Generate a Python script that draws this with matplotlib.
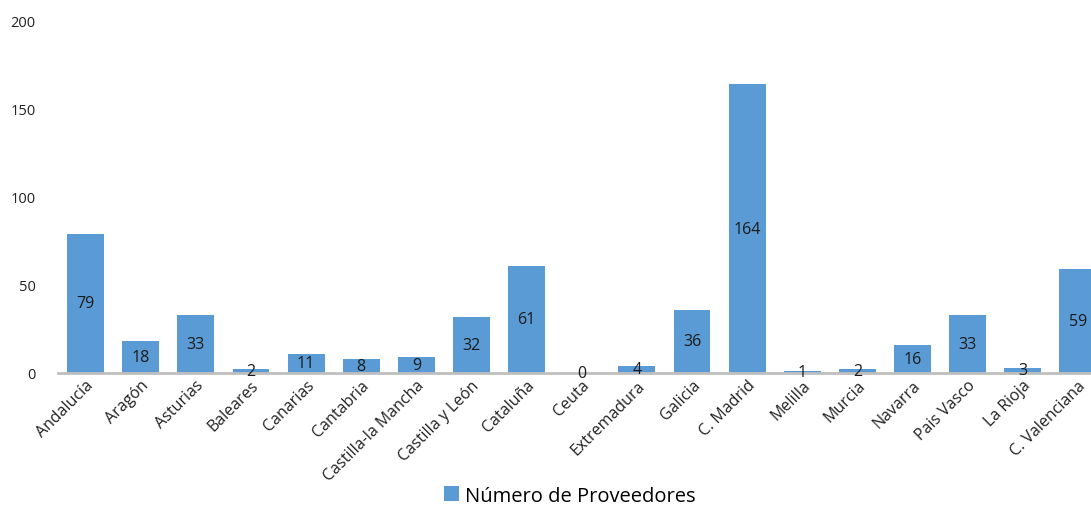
import matplotlib.pyplot as plt
import numpy as np

regiones = ["Andalucía", "Aragón", "Asturias", "Baleares", "Canarias", "Cantabria",
            "Castilla-la Mancha", "Castilla y León", "Cataluña", "Ceuta", "Extremadura",
            "Galicia", "C. Madrid", "Melilla", "Murcia", "Navarra", "Pais Vasco",
            "La Rioja", "C. Valenciana"]
proveedores = [79, 18, 33, 2, 11, 8, 9, 32, 61, 0, 4, 36, 164, 1, 2, 16, 33, 3, 59]
y_ticks = [0, 50, 100, 150, 200]

plt.rcParams['font.family'] = ['Open Sans', 'DejaVu Sans']

fig = plt.figure(figsize=(10.91, 5.06), dpi=100)
ax = fig.add_axes([0.0532, 0.261, 0.96, 0.6957])

x = np.arange(len(regiones))
bars = ax.bar(x, proveedores, width=0.67, color='#5B9BD5', label='Número de Proveedores')

# data labels centred in each bar
for xi, v in zip(x, proveedores):
    ax.text(xi, v / 2, str(v), ha='center', va='center', fontsize=11.5, color='#1a1a1a')

ax.set_xlim(-0.5, len(regiones) - 0.5)
ax.set_ylim(0, 200)
ax.set_yticks(y_ticks)
ax.set_yticklabels([str(t) for t in y_ticks], fontsize=10.5, color='#222222')
ax.set_xticks(x)
ax.set_xticklabels(regiones, rotation=45, ha='right', va='top', rotation_mode='anchor',
                   fontsize=11.5, color='#222222')
ax.tick_params(axis='both', length=0)
ax.tick_params(axis='y', pad=16)
ax.tick_params(axis='x', pad=3)

for s in ['top', 'right', 'left']:
    ax.spines[s].set_visible(False)
ax.spines['bottom'].set_color('#BFBFBF')
ax.spines['bottom'].set_linewidth(2)

fig.legend(handles=[bars], labels=['Número de Proveedores'], loc='center',
           bbox_to_anchor=(0.522, 0.018), frameon=False, fontsize=14.5,
           handlelength=0.75, handleheight=0.75, handletextpad=0.3)

fig.savefig('out.png', dpi=100)
